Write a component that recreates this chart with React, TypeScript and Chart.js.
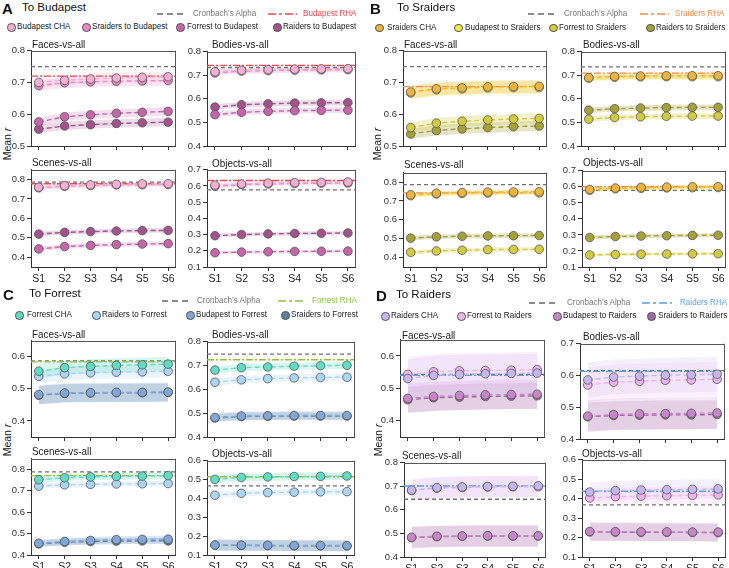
import React, { useEffect, useRef } from "react";
import { Chart, registerables } from "chart.js";
Chart.register(...registerables);

const FONT = "'Liberation Sans', Arial, Helvetica, sans-serif";

// ---------------- DATA ----------------
const sessions = ["S1", "S2", "S3", "S4", "S5", "S6"];
const subplotTitles = ["Faces-vs-all", "Bodies-vs-all", "Scenes-vs-all", "Objects-vs-all"];

// Panel A: To Budapest
const budapestSeries = ["Budapest CHA", "Sraiders to Budapest", "Forrest to Budapest", "Raiders to Budapest"];
const budapestFaces = [
  [0.700, 0.707, 0.711, 0.714, 0.716, 0.718],
  [0.690, 0.699, 0.702, 0.704, 0.705, 0.706],
  [0.576, 0.592, 0.598, 0.603, 0.606, 0.609],
  [0.553, 0.563, 0.567, 0.571, 0.573, 0.575],
];
const budapestBodies = [
  [0.715, 0.721, 0.724, 0.726, 0.727, 0.728],
  [0.710, 0.718, 0.720, 0.722, 0.723, 0.724],
  [0.533, 0.543, 0.547, 0.550, 0.551, 0.552],
  [0.565, 0.575, 0.579, 0.582, 0.583, 0.584],
];
const budapestScenes = [
  [0.760, 0.768, 0.772, 0.775, 0.777, 0.778],
  [0.757, 0.765, 0.769, 0.772, 0.773, 0.774],
  [0.443, 0.455, 0.461, 0.465, 0.468, 0.470],
  [0.519, 0.528, 0.532, 0.535, 0.537, 0.538],
];
const budapestObjects = [
  [0.605, 0.612, 0.617, 0.620, 0.622, 0.624],
  [0.598, 0.608, 0.612, 0.615, 0.617, 0.618],
  [0.188, 0.192, 0.194, 0.196, 0.197, 0.198],
  [0.293, 0.300, 0.304, 0.307, 0.308, 0.310],
];
const budapestAlpha = [0.750, 0.733, 0.786, 0.575];
const budapestRHA = [0.720, 0.742, 0.778, 0.633];
const budapestCI = [
  [0.017, 0.017, 0.013, 0.013],
  [0.012, 0.012, 0.012, 0.012],
  [0.012, 0.012, 0.012, 0.012],
  [0.012, 0.012, 0.010, 0.012],
];

// Panel B: To Sraiders
const sraidersSeries = ["Sraiders CHA", "Budapest to Sraiders", "Forrest to Sraiders", "Raiders to Sraiders"];
const sraidersFaces = [
  [0.670, 0.680, 0.683, 0.686, 0.687, 0.688],
  [0.667, 0.677, 0.680, 0.683, 0.684, 0.684],
  [0.558, 0.572, 0.578, 0.582, 0.585, 0.587],
  [0.538, 0.549, 0.554, 0.558, 0.561, 0.563],
];
const sraidersBodies = [
  [0.690, 0.695, 0.697, 0.698, 0.698, 0.698],
  [0.688, 0.692, 0.693, 0.694, 0.694, 0.694],
  [0.514, 0.521, 0.524, 0.526, 0.527, 0.527],
  [0.552, 0.558, 0.561, 0.563, 0.564, 0.564],
];
const sraidersScenes = [
  [0.733, 0.741, 0.745, 0.747, 0.748, 0.749],
  [0.728, 0.737, 0.740, 0.742, 0.743, 0.743],
  [0.428, 0.435, 0.439, 0.442, 0.443, 0.444],
  [0.503, 0.510, 0.513, 0.515, 0.516, 0.517],
];
const sraidersObjects = [
  [0.583, 0.592, 0.596, 0.598, 0.600, 0.600],
  [0.578, 0.587, 0.590, 0.593, 0.594, 0.595],
  [0.175, 0.178, 0.180, 0.181, 0.182, 0.183],
  [0.284, 0.290, 0.293, 0.295, 0.297, 0.298],
];
const sraidersAlpha = [0.750, 0.736, 0.787, 0.577];
const sraidersRHA = [0.687, 0.709, 0.743, 0.600];
const sraidersCI = [
  [0.020, 0.020, 0.016, 0.016],
  [0.013, 0.013, 0.012, 0.012],
  [0.012, 0.012, 0.012, 0.012],
  [0.012, 0.012, 0.010, 0.012],
];

// Panel C: To Forrest
const forrestSeries = ["Forrest CHA", "Raiders to Forrest", "Budapest to Forrest", "Sraiders to Forrest"];
const forrestFaces = [
  [0.555, 0.566, 0.570, 0.573, 0.575, 0.577],
  [0.539, 0.547, 0.550, 0.552, 0.553, 0.555],
  [0.482, 0.487, 0.488, 0.489, 0.489, 0.490],
  [0.480, 0.486, 0.487, 0.488, 0.488, 0.489],
];
const forrestBodies = [
  [0.681, 0.691, 0.694, 0.697, 0.699, 0.701],
  [0.630, 0.640, 0.645, 0.648, 0.650, 0.651],
  [0.482, 0.488, 0.489, 0.490, 0.490, 0.490],
  [0.480, 0.486, 0.487, 0.488, 0.488, 0.488],
];
const forrestScenes = [
  [0.752, 0.761, 0.765, 0.767, 0.769, 0.771],
  [0.722, 0.728, 0.730, 0.732, 0.733, 0.734],
  [0.455, 0.463, 0.468, 0.472, 0.473, 0.474],
  [0.452, 0.460, 0.463, 0.465, 0.466, 0.466],
];
const forrestObjects = [
  [0.501, 0.511, 0.514, 0.516, 0.517, 0.519],
  [0.417, 0.427, 0.431, 0.433, 0.435, 0.436],
  [0.153, 0.152, 0.151, 0.150, 0.150, 0.150],
  [0.152, 0.151, 0.150, 0.149, 0.149, 0.148],
];
const forrestAlpha = [0.587, 0.748, 0.788, 0.466];
const forrestRHA = [0.584, 0.724, 0.771, 0.515];
const forrestCI = [
  [0.022, 0.020, 0.030, 0.028],
  [0.015, 0.015, 0.018, 0.016],
  [0.015, 0.012, 0.016, 0.015],
  [0.020, 0.016, 0.030, 0.028],
];

// Panel D: To Raiders
const raidersSeries = ["Raiders CHA", "Forrest to Raiders", "Budapest to Raiders", "Sraiders to Raiders"];
const raidersFaces = [
  [0.530, 0.540, 0.543, 0.545, 0.546, 0.547],
  [0.543, 0.551, 0.554, 0.555, 0.556, 0.558],
  [0.469, 0.475, 0.478, 0.480, 0.481, 0.482],
  [0.465, 0.471, 0.473, 0.475, 0.476, 0.477],
];
const raidersBodies = [
  [0.586, 0.595, 0.598, 0.601, 0.602, 0.604],
  [0.570, 0.579, 0.582, 0.585, 0.586, 0.588],
  [0.472, 0.477, 0.479, 0.480, 0.481, 0.482],
  [0.470, 0.474, 0.475, 0.476, 0.476, 0.477],
];
const raidersScenes = [
  [0.684, 0.694, 0.697, 0.699, 0.700, 0.702],
  [0.682, 0.692, 0.695, 0.697, 0.698, 0.698],
  [0.484, 0.488, 0.489, 0.490, 0.490, 0.490],
  [0.482, 0.486, 0.488, 0.489, 0.489, 0.489],
];
const raidersObjects = [
  [0.434, 0.441, 0.444, 0.446, 0.448, 0.450],
  [0.403, 0.410, 0.413, 0.415, 0.417, 0.419],
  [0.231, 0.230, 0.229, 0.229, 0.228, 0.228],
  [0.229, 0.228, 0.227, 0.227, 0.226, 0.225],
];
const raidersAlpha = [0.543, 0.615, 0.645, 0.368];
const raidersRHA = [0.540, 0.613, 0.701, 0.438];
const raidersCI = [
  [0.060, 0.055, 0.045, 0.040],
  [0.055, 0.055, 0.050, 0.045],
  [0.045, 0.045, 0.045, 0.045],
  [0.050, 0.045, 0.048, 0.045],
];

// ---------------- STYLE / LAYOUT ----------------
type Frame = [number, number, number, number];
type YAxis = { min: number; max: number; ticks: number[] };

const ticks48 = [0.4, 0.5, 0.6, 0.7, 0.8];
const yAB: YAxis[] = [
  { min: 0.5, max: 0.8, ticks: [0.5, 0.6, 0.7, 0.8] },
  { min: 0.4, max: 0.8, ticks: ticks48 },
  { min: 0.35, max: 0.85, ticks: ticks48 },
  { min: 0.1, max: 0.7, ticks: [0.1, 0.2, 0.3, 0.4, 0.5, 0.6, 0.7] },
];
const yC: YAxis[] = [
  { min: 0.35, max: 0.65, ticks: [0.4, 0.5, 0.6] },
  { min: 0.4, max: 0.8, ticks: ticks48 },
  { min: 0.4, max: 0.85, ticks: ticks48 },
  { min: 0.1, max: 0.6, ticks: [0.1, 0.2, 0.3, 0.4, 0.5, 0.6] },
];
const yD: YAxis[] = [
  { min: 0.35, max: 0.65, ticks: [0.4, 0.5, 0.6] },
  { min: 0.4, max: 0.7, ticks: [0.4, 0.5, 0.6, 0.7] },
  { min: 0.4, max: 0.8, ticks: ticks48 },
  { min: 0.1, max: 0.6, ticks: [0.1, 0.2, 0.3, 0.4, 0.5, 0.6] },
];

type PanelDef = {
  letter: string;
  title: string;
  series: string[];
  data: number[][][];
  alpha: number[];
  rha: number[];
  ci: number[][];
  rhaLabel: string;
  colors: string[];
  rhaColor: string;
  bandAlpha: number;
  frames: Frame[];
  titlePos: [number, number][];
  yAxes: YAxis[];
  head: { letterX: number; y: number; titleX: number };
  row1: { y: number; dash: [number, number]; text: number; rha: [number, number]; rhaText: number };
  row2: { y: number; circles: number[]; texts: number[] };
  meanR: [number, number];
};

const panels: PanelDef[] = [
  {
    letter: "A", title: "To Budapest", series: budapestSeries,
    data: [budapestFaces, budapestBodies, budapestScenes, budapestObjects],
    alpha: budapestAlpha, rha: budapestRHA, ci: budapestCI, rhaLabel: "Budapest RHA",
    colors: ["#f6aed3", "#e986c3", "#c865aa", "#a4528e"], rhaColor: "#e9474f", bandAlpha: 0.2,
    frames: [[31, 50, 176, 146], [207, 51, 356, 146], [31, 169, 176, 267], [207, 169, 356, 267]],
    titlePos: [[32, 44.5], [212, 45], [32, 163], [212, 164]],
    yAxes: yAB,
    head: { letterX: 2, y: 8, titleX: 22 },
    row1: { y: 14, dash: [157, 185], text: 193, rha: [268, 297], rhaText: 303 },
    row2: { y: 27, circles: [11, 86, 180, 277], texts: [17, 92, 187, 283] },
    meanR: [7, 144],
  },
  {
    letter: "B", title: "To Sraiders", series: sraidersSeries,
    data: [sraidersFaces, sraidersBodies, sraidersScenes, sraidersObjects],
    alpha: sraidersAlpha, rha: sraidersRHA, ci: sraidersCI, rhaLabel: "Sraiders RHA",
    colors: ["#efb43e", "#f3e947", "#d3cb3f", "#a6a137"], rhaColor: "#f98a4b", bandAlpha: 0.28,
    frames: [[403, 50, 547, 146], [581, 51, 726, 146], [403, 172, 547, 267], [582, 170, 726, 267]],
    titlePos: [[404, 44.5], [583, 45], [404, 165], [583, 163]],
    yAxes: yAB,
    head: { letterX: 370, y: 8, titleX: 397 },
    row1: { y: 14, dash: [528, 557], text: 564, rha: [640, 669], rhaText: 675 },
    row2: { y: 27.5, circles: [379, 458, 553, 650], texts: [387, 465, 559, 656] },
    meanR: [377, 144],
  },
  {
    letter: "C", title: "To Forrest", series: forrestSeries,
    data: [forrestFaces, forrestBodies, forrestScenes, forrestObjects],
    alpha: forrestAlpha, rha: forrestRHA, ci: forrestCI, rhaLabel: "Forrest RHA",
    colors: ["#5fdcc3", "#aad5f6", "#7fa8d8", "#5c7fa6"], rhaColor: "#8cc43e", bandAlpha: 0.25,
    frames: [[31, 340, 176, 437], [207, 341, 355, 437], [31, 458, 176, 555], [207, 460, 355, 555]],
    titlePos: [[32, 334.5], [212, 334.5], [32, 452], [212, 454]],
    yAxes: yC,
    head: { letterX: 3, y: 294, titleX: 29 },
    row1: { y: 301, dash: [162, 190], text: 197, rha: [278, 306], rhaText: 312 },
    row2: { y: 315, circles: [19, 96, 190, 285], texts: [27, 102, 196, 291] },
    meanR: [7, 440],
  },
  {
    letter: "D", title: "To Raiders", series: raidersSeries,
    data: [raidersFaces, raidersBodies, raidersScenes, raidersObjects],
    alpha: raidersAlpha, rha: raidersRHA, ci: raidersCI, rhaLabel: "Raiders RHA",
    colors: ["#c7b6f1", "#f3b3f1", "#c886ca", "#9d6ba1"], rhaColor: "#5a9fe9", bandAlpha: 0.2,
    frames: [[400, 339, 545, 437], [580, 343, 725, 439], [404, 462, 546, 557], [582, 459, 726, 557]],
    titlePos: [[402, 335.5], [583, 337], [402, 456], [582, 454]],
    yAxes: yD,
    head: { letterX: 376, y: 295, titleX: 396 },
    row1: { y: 303, dash: [529, 557], text: 567, rha: [642, 672], rhaText: 680 },
    row2: { y: 316, circles: [385, 461, 557, 651], texts: [391, 467, 563, 658] },
    meanR: [378, 440],
  },
];

function rgba(hex: string, a: number) {
  const n = parseInt(hex.slice(1), 16);
  return `rgba(${(n >> 16) & 255},${(n >> 8) & 255},${n & 255},${a})`;
}

const framePlugin = {
  id: "frameBox",
  afterDatasetsDraw(chart: any) {
    const { ctx, chartArea } = chart;
    const { left, top, right, bottom } = chartArea;
    ctx.save();
    ctx.strokeStyle = "#555";
    ctx.lineWidth = 1;
    ctx.beginPath();
    ctx.moveTo(left, Math.round(top) + 0.5);
    ctx.lineTo(right, Math.round(top) + 0.5);
    ctx.moveTo(Math.round(right) - 0.5, top);
    ctx.lineTo(Math.round(right) - 0.5, bottom);
    ctx.stroke();
    ctx.restore();
  },
};

type SubProps = {
  frame: Frame; y: YAxis; showX: boolean; values: number[][]; ci: number[];
  colors: string[]; bandAlpha: number; alpha: number; rha: number; rhaColor: string;
};

function Subplot(p: SubProps) {
  const ref = useRef<HTMLCanvasElement>(null);
  const [L, T, R, B] = p.frame;
  const YW = 30, PT = 7, PR = 5, XH = p.showX ? 20 : 8;
  const W = R - L + YW + PR;
  const H = B - T + PT + XH;
  useEffect(() => {
    const ds: any[] = [];
    const n = p.values.length;
    for (let i = n - 1; i >= 0; i--) {
      const v = p.values[i];
      const c = p.ci[i];
      ds.push({
        data: v.map((y, j) => ({ x: j + 1, y: y - c })),
        borderWidth: 0, pointRadius: 0, fill: false, cubicInterpolationMode: "monotone",
      });
      ds.push({
        data: v.map((y, j) => ({ x: j + 1, y: y + c })),
        borderWidth: 0, pointRadius: 0, fill: "-1", backgroundColor: rgba(p.colors[i], p.bandAlpha),
        cubicInterpolationMode: "monotone",
      });
    }
    ds.push({
      data: [{ x: 0.7, y: p.alpha }, { x: 6.3, y: p.alpha }],
      borderColor: "#707070", borderWidth: 1.3, borderDash: [4, 3], pointRadius: 0, fill: false,
    });
    ds.push({
      data: [{ x: 0.7, y: p.rha }, { x: 6.3, y: p.rha }],
      borderColor: p.rhaColor, borderWidth: 1.4, borderDash: [7, 2, 2, 2], pointRadius: 0, fill: false,
    });
    for (let i = n - 1; i >= 0; i--) {
      ds.push({
        data: p.values[i].map((y, j) => ({ x: j + 1, y })),
        borderColor: p.colors[i], borderWidth: 1.4, borderDash: [5, 3], fill: false,
        pointRadius: 4.3, pointBackgroundColor: p.colors[i], pointBorderColor: "#555",
        pointBorderWidth: 0.8,
      });
    }
    ds.forEach((d, k) => (d.order = ds.length - k));
    const axisCommon = {
      grid: { drawOnChartArea: false, drawTicks: true, tickLength: 4, color: "#333", lineWidth: 1 },
      border: { display: true, color: "#333", width: 1 },
    };
    const chart = new Chart(ref.current as HTMLCanvasElement, {
      type: "line",
      data: { datasets: ds },
      options: {
        responsive: false, animation: false, devicePixelRatio: 1,
        layout: { padding: { top: PT, right: PR, left: 0, bottom: 0 } },
        plugins: { legend: { display: false }, tooltip: { enabled: false } },
        elements: { line: { tension: 0 } },
        scales: {
          x: {
            type: "linear", min: 0.7, max: 6.3, ...axisCommon,
            afterBuildTicks: (s: any) => { s.ticks = sessions.map((_, i) => ({ value: i + 1 })); },
            afterFit: (s: any) => { s.height = XH; },
            ticks: {
              display: p.showX, autoSkip: false, maxRotation: 0, padding: 2,
              callback: (v: any) => sessions[Math.round(Number(v)) - 1],
              font: { size: 10.5, family: FONT }, color: "#222",
            },
          },
          y: {
            type: "linear", min: p.y.min, max: p.y.max, ...axisCommon,
            afterBuildTicks: (s: any) => { s.ticks = p.y.ticks.map((v) => ({ value: v })); },
            afterFit: (s: any) => { s.width = YW; },
            ticks: {
              padding: 2, callback: (v: any) => Number(v).toFixed(1),
              font: { size: 9.5, family: FONT }, color: "#333",
            },
          },
        },
      } as any,
      plugins: [framePlugin],
    });
    return () => chart.destroy();
  }, []);
  return (
    <canvas
      ref={ref}
      width={W}
      height={H}
      style={{ position: "absolute", left: L - YW, top: T - PT, width: W, height: H }}
    />
  );
}

function Txt(props: { x: number; cy: number; size: number; sx?: number; color?: string; bold?: boolean; children: any }) {
  const { x, cy, size } = props;
  return (
    <div
      style={{
        position: "absolute", left: x, top: cy - 0.49 * size, fontSize: size, lineHeight: `${size}px`,
        color: props.color || "#222", fontWeight: props.bold ? 700 : 400, whiteSpace: "nowrap",
        fontFamily: FONT, zIndex: 2, transform: `scaleX(${props.sx || 1})`, transformOrigin: "left center",
      }}
    >
      {props.children}
    </div>
  );
}

function LineSample(props: { x1: number; x2: number; y: number; color: string; dash: string }) {
  const w = props.x2 - props.x1;
  return (
    <svg width={w} height={4} style={{ position: "absolute", left: props.x1, top: props.y - 2 }}>
      <line x1={0} y1={2} x2={w} y2={2} stroke={props.color} strokeWidth={1.5} strokeDasharray={props.dash} />
    </svg>
  );
}

function Panel({ p }: { p: PanelDef }) {
  return (
    <>
      <Txt x={p.head.letterX} cy={p.head.y} size={15} bold color="#111">{p.letter}</Txt>
      <Txt x={p.head.titleX} cy={p.head.y} size={11.5} color="#111">{p.title}</Txt>
      <LineSample x1={p.row1.dash[0]} x2={p.row1.dash[1]} y={p.row1.y} color="#666" dash="6 4" />
      <Txt x={p.row1.text} cy={p.row1.y} size={9.2} sx={0.88} color="#777">Cronbach’s Alpha</Txt>
      <LineSample x1={p.row1.rha[0]} x2={p.row1.rha[1]} y={p.row1.y} color={p.rhaColor} dash="8 3 3 3" />
      <Txt x={p.row1.rhaText} cy={p.row1.y} size={9.2} sx={0.88} color={p.rhaColor}>{p.rhaLabel}</Txt>
      {p.series.map((name, i) => (
        <React.Fragment key={name}>
          <div
            style={{
              position: "absolute", left: p.row2.circles[i] - 4, top: p.row2.y - 4, width: 6.6, height: 6.6,
              borderRadius: "50%", background: p.colors[i], border: "0.8px solid #555",
            }}
          />
          <Txt x={p.row2.texts[i]} cy={p.row2.y} size={9.2} sx={0.88} color="#222">{name}</Txt>
        </React.Fragment>
      ))}
      <div
        style={{
          position: "absolute", left: p.meanR[0], top: p.meanR[1], transform: "translate(-50%, -50%) rotate(-90deg)",
          fontSize: 10.5, fontFamily: FONT, color: "#222", whiteSpace: "nowrap", lineHeight: "10px",
        }}
      >
        Mean <i>r</i>
      </div>
      {p.frames.map((f, k) => (
        <React.Fragment key={k}>
          <Subplot
            frame={f} y={p.yAxes[k]} showX={k >= 2} values={p.data[k]} ci={p.ci[k]}
            colors={p.colors} bandAlpha={p.bandAlpha} alpha={p.alpha[k]} rha={p.rha[k]} rhaColor={p.rhaColor}
          />
          <Txt x={p.titlePos[k][0]} cy={p.titlePos[k][1]} size={11.5} sx={0.86} color="#222">{subplotTitles[k]}</Txt>
        </React.Fragment>
      ))}
    </>
  );
}

export default function App() {
  return (
    <div
      style={{
        position: "absolute", left: 0, top: 0, width: 729, height: 568, overflow: "hidden",
        background: "#fff", fontFamily: FONT,
      }}
    >
      {panels.map((p) => (
        <Panel key={p.letter} p={p} />
      ))}
    </div>
  );
}
